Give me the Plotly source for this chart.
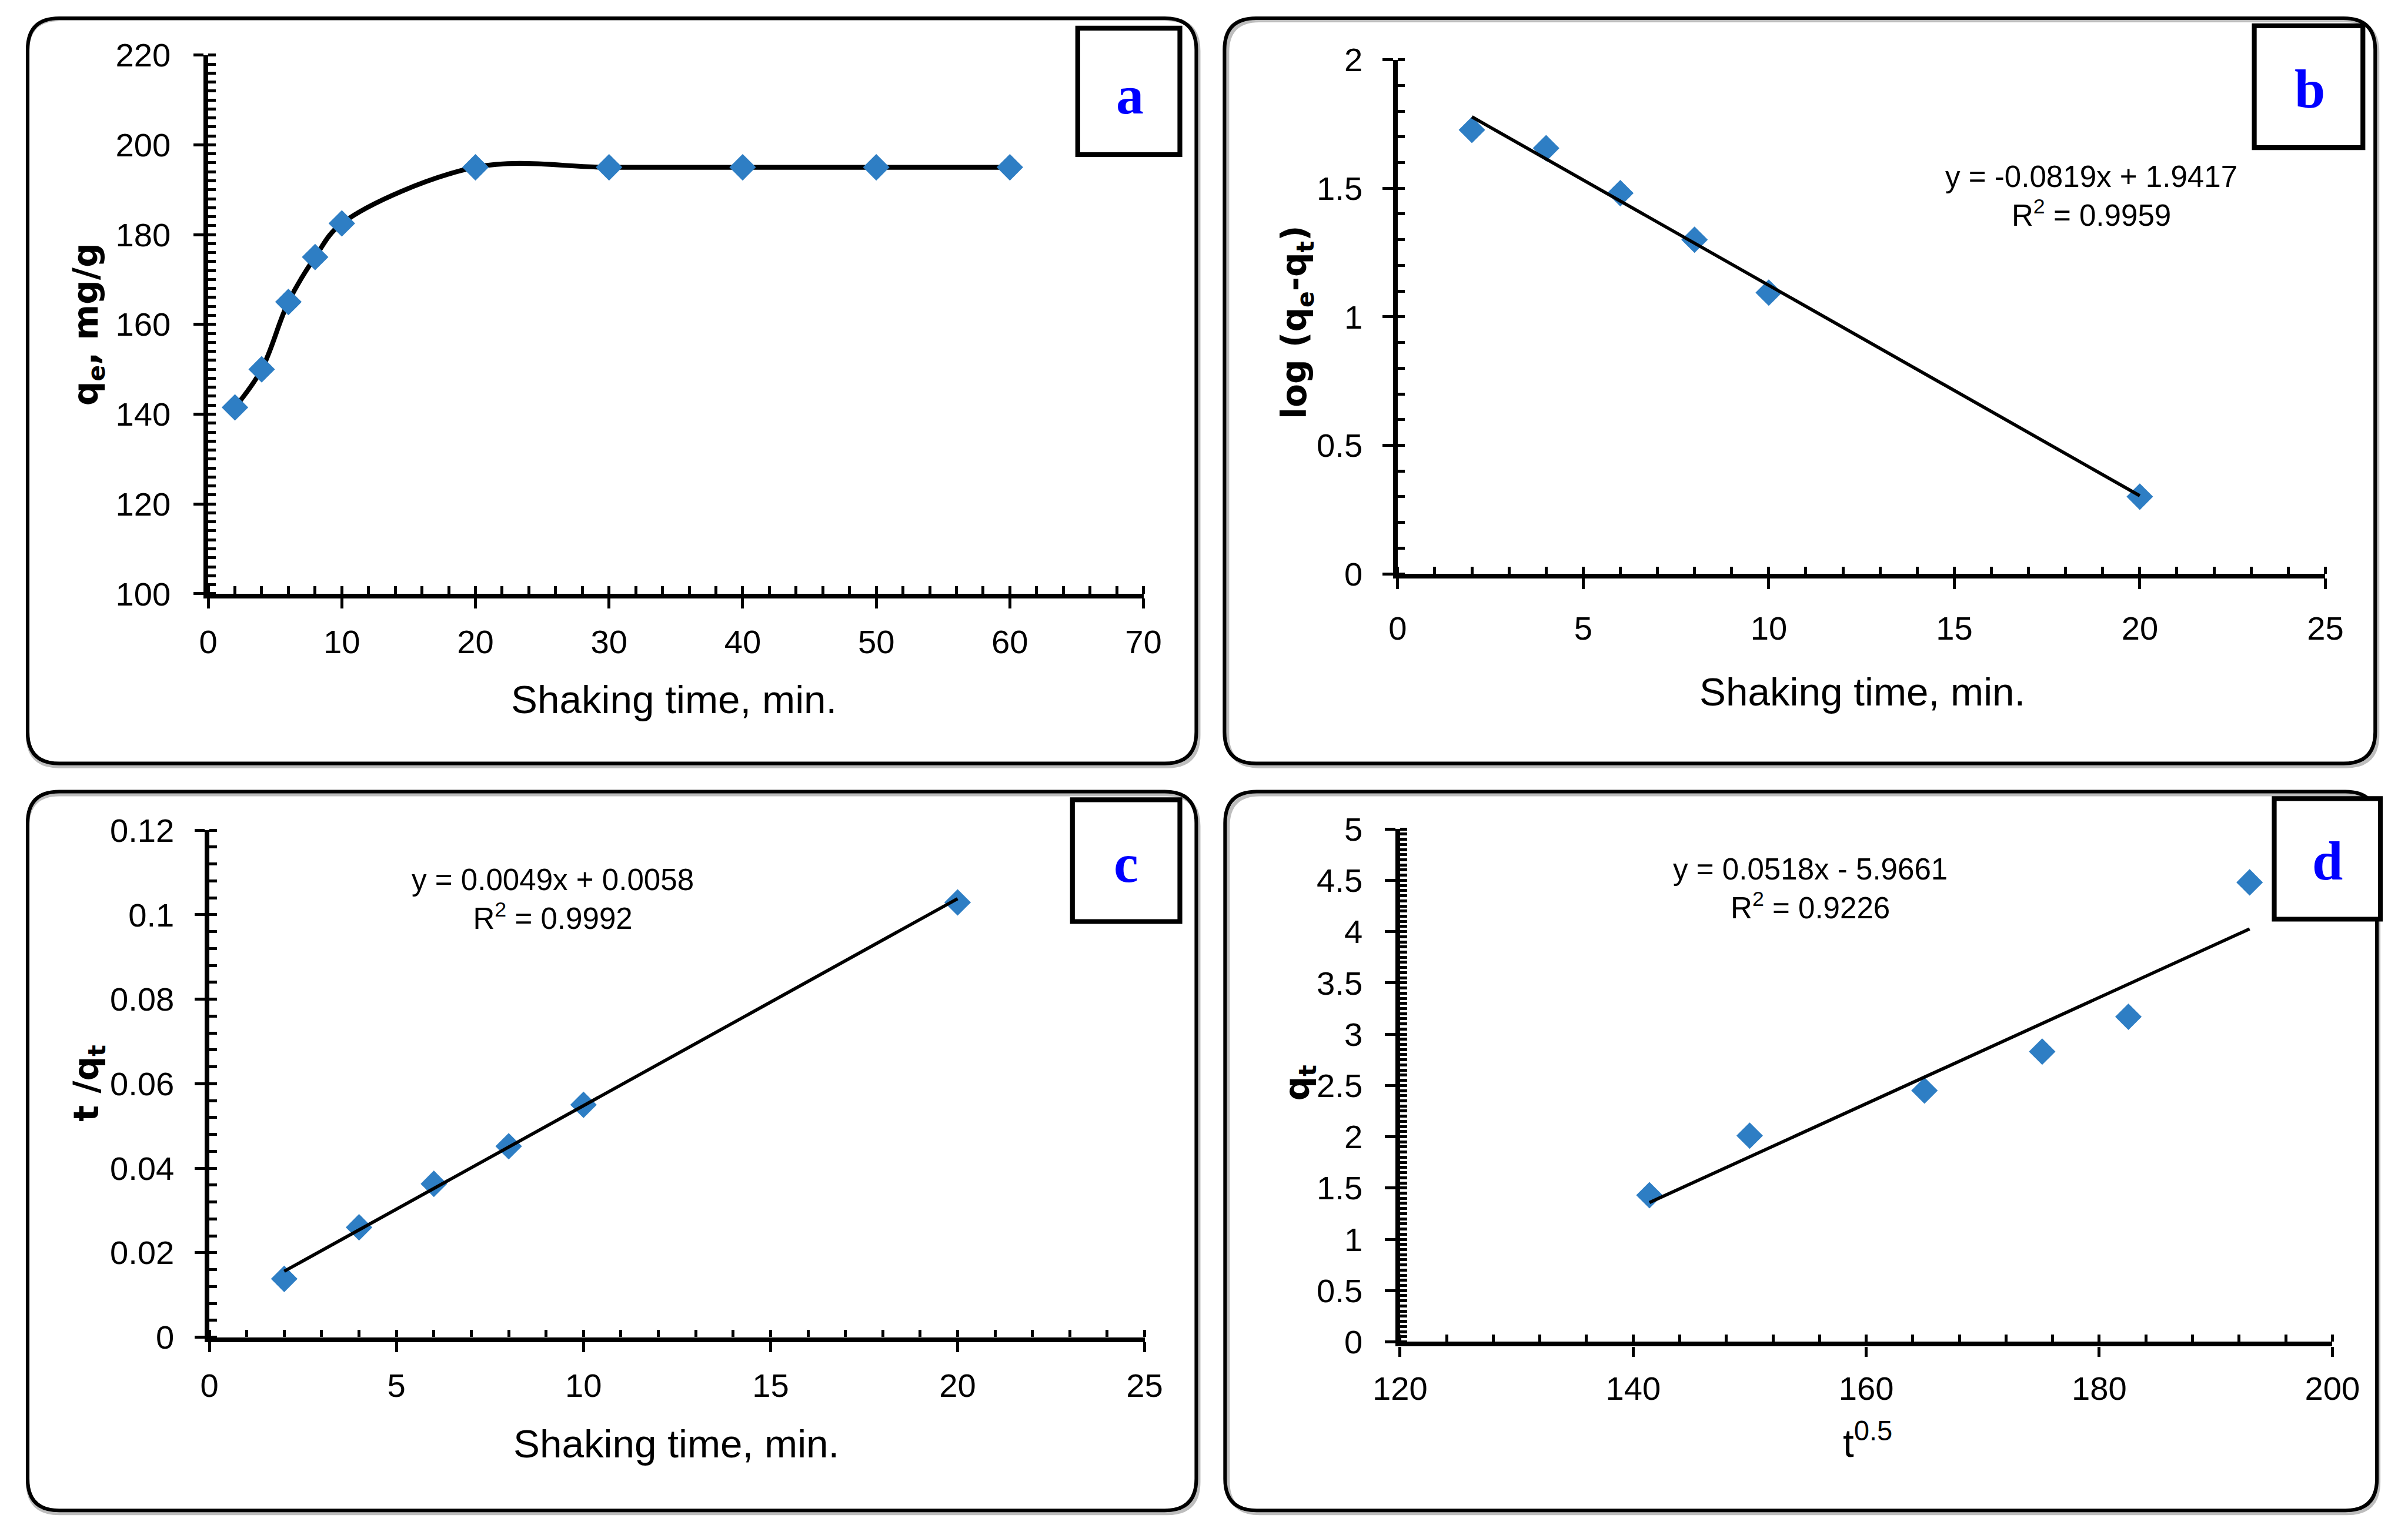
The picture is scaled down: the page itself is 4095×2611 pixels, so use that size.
import plotly.graph_objects as go

W, H = 4095, 2611

# ---------------- data ----------------
a_time = [2, 4, 6, 8, 10, 20, 30, 40, 50, 60]
a_qe = [141.5, 150, 165, 175, 182.5, 195, 195, 195, 195, 195]

b_time = [2, 4, 6, 8, 10, 20]
b_log = [1.727, 1.656, 1.481, 1.300, 1.094, 0.300]
b_slope, b_icpt = -0.0819, 1.9417

c_time = [2, 4, 6, 8, 10, 20]
c_tq = [0.0138, 0.0260, 0.0363, 0.0452, 0.0550, 0.1029]
c_slope, c_icpt = 0.0049, 0.0058

d_t05 = [141.4, 150.0, 165.0, 175.1, 182.5, 192.9]
d_qt = [1.43, 2.01, 2.45, 2.83, 3.17, 4.48]
d_slope, d_icpt = 0.0518, -5.9661

eq_b = "y = -0.0819x + 1.9417<br>R<sup>2</sup> = 0.9959"
eq_c = "y = 0.0049x + 0.0058<br>R<sup>2</sup> = 0.9992"
eq_d = "y = 0.0518x - 5.9661<br>R<sup>2</sup> = 0.9226"

xtitle_time = "Shaking time, min."
# --------------------------------------

# the page is photographed with a small border; map target pixels to page pixels
OX, SX, OY, SY = 47.4, 0.9786, 29.0, 0.980
K = 1 / 0.979  # size compensation


def PX(t):
    return (t - OX) / SX


def PY(t):
    return (t - OY) / SY


def fx(t):
    return min(max(PX(t), 0), W) / W


def fy(t):
    return 1 - min(max(PY(t), 0), H) / H


def sz(v):
    return round(v * K, 1)


MARK = "#2E7EC4"
TICKFONT = dict(family="Liberation Sans, Arial, sans-serif", size=sz(55), color="black")
EQFONT = dict(family="Liberation Sans, Arial, sans-serif", size=sz(50), color="black")
TITLEFONT = dict(family="Liberation Sans, Arial, sans-serif", size=sz(66), color="black")
YTFONT = dict(family="DejaVu Sans, Verdana, sans-serif", size=sz(57), color="black")
LETTERFONT = dict(family="Liberation Serif, Times New Roman, serif", size=sz(92), color="#0000FF")


def trend(xs, m, b):
    x0, x1 = min(xs), max(xs)
    return [x0, x1], [m * x0 + b, m * x1 + b]


fig = go.Figure()

marker = dict(symbol="diamond", size=sz(34), color=MARK, line=dict(width=0))

fig.add_trace(go.Scatter(x=a_time, y=a_qe, mode="lines+markers",
                         line=dict(color="black", width=sz(8), shape="spline", smoothing=1.0),
                         marker=marker, xaxis="x", yaxis="y", showlegend=False))
tx, ty = trend(b_time, b_slope, b_icpt)
fig.add_trace(go.Scatter(x=b_time, y=b_log, mode="markers", marker=marker,
                         xaxis="x2", yaxis="y2", showlegend=False))
fig.add_trace(go.Scatter(x=tx, y=ty, mode="lines", line=dict(color="black", width=sz(5.5)),
                         xaxis="x2", yaxis="y2", showlegend=False))
tx, ty = trend(c_time, c_slope, c_icpt)
fig.add_trace(go.Scatter(x=c_time, y=c_tq, mode="markers", marker=marker,
                         xaxis="x3", yaxis="y3", showlegend=False))
fig.add_trace(go.Scatter(x=tx, y=ty, mode="lines", line=dict(color="black", width=sz(5.5)),
                         xaxis="x3", yaxis="y3", showlegend=False))
tx, ty = trend(d_t05, d_slope, d_icpt)
fig.add_trace(go.Scatter(x=d_t05, y=d_qt, mode="markers", marker=marker,
                         xaxis="x4", yaxis="y4", showlegend=False))
fig.add_trace(go.Scatter(x=tx, y=ty, mode="lines", line=dict(color="black", width=sz(5.5)),
                         xaxis="x4", yaxis="y4", showlegend=False))


def common(rng, dtick, minor, anchor, standoff):
    return dict(range=rng, dtick=dtick, tick0=rng[0],
                anchor=anchor, showgrid=False, zeroline=False, showline=True,
                linecolor="black", linewidth=sz(8), ticks="outside", ticklen=sz(17),
                tickwidth=sz(5), tickcolor="black", tickfont=TICKFONT,
                ticklabelstandoff=standoff,
                minor=dict(dtick=minor, tick0=rng[0], ticks="inside", ticklen=sz(12),
                           tickwidth=sz(5), tickcolor="black", showgrid=False),
                fixedrange=True)


def xax(dom, rng, dtick, minor, anchor, standoff):
    d = common(rng, dtick, minor, anchor, standoff)
    d["domain"] = [fx(dom[0]), fx(dom[1])]
    return d


def yax(dom, rng, dtick, minor, anchor, standoff):
    d = common(rng, dtick, minor, anchor, standoff)
    d["domain"] = [fy(dom[1]), fy(dom[0])]
    return d


layout = dict(
    width=W, height=H, margin=dict(l=0, r=0, t=0, b=0),
    paper_bgcolor="white", plot_bgcolor="rgba(0,0,0,0)", showlegend=False,
    xaxis=xax((355, 1948), [0, 70], 10, 2, "y", 8),
    yaxis=yax((92, 1012), [100, 220], 20, 2, "x", 27),
    xaxis2=xax((2381, 3961), [0, 25], 5, 1, "y2", 19),
    yaxis2=yax((100, 978), [0, 2], 0.5, 0.1, "x2", 23),
    xaxis3=xax((357, 1950), [0, 25], 5, 1, "y3", 9),
    yaxis3=yax((1416, 2282), [0, 0.12], 0.02, 0.004, "x3", 23),
    xaxis4=xax((2385, 3973), [120, 200], 20, 4, "y4", 6),
    yaxis4=yax((1414, 2290), [0, 5], 0.5, 0.05, "x4", 27),
)
fig.update_layout(**layout)

shapes = []


def rrect(x0, y0, x1, y1, r, cap):
    X0, X1 = fx(x0), min(fx(x1), cap / W)
    Y0, Y1 = fy(y0), fy(y1)
    rx, ry = r / W, r / H
    return (f"M {X0+rx},{Y0} L {X1-rx},{Y0} Q {X1},{Y0} {X1},{Y0-ry} "
            f"L {X1},{Y1+ry} Q {X1},{Y1} {X1-rx},{Y1} L {X0+rx},{Y1} "
            f"Q {X0},{Y1} {X0},{Y1+ry} L {X0},{Y0-ry} Q {X0},{Y0} {X0+rx},{Y0} Z")


frames = [(30, 26, 2038, 1302), (2086, 28, 4046, 1302),
          (30, 1350, 2038, 2578), (2087, 1350, 4072, 2578)]
for (x0, y0, x1, y1) in frames:
    shapes.append(dict(type="path", xref="paper", yref="paper",
                       path=rrect(x0 + 5, y0 + 5, x1 + 4, y1 + 5, 55, 4092),
                       line=dict(color="#BDBDBD", width=sz(6)), layer="below"))
    shapes.append(dict(type="path", xref="paper", yref="paper",
                       path=rrect(x0, y0, x1, y1, 55, 4089),
                       line=dict(color="black", width=sz(6)), layer="below"))

boxes = [(1836, 46, 2010, 262), (3840, 42, 4025, 250),
         (1827, 1364, 2010, 1572), (3874, 1362, 4057, 1568)]
for (x0, y0, x1, y1) in boxes:
    shapes.append(dict(type="rect", xref="paper", yref="paper",
                       x0=fx(x0), x1=fx(x1), y0=fy(y1), y1=fy(y0),
                       line=dict(color="black", width=sz(8)), fillcolor="white", layer="below"))
fig.update_layout(shapes=shapes)

ann = []
letters = [("a", 1925, 160), ("b", 3935, 150), ("c", 1918, 1472), ("d", 3965, 1468)]
for t, x, y in letters:
    ann.append(dict(text=f"<b>{t}</b>", x=fx(x), y=fy(y), xref="paper", yref="paper",
                    showarrow=False, font=LETTERFONT, xanchor="center", yanchor="middle"))

for t, x, y in [(eq_b, 3562, 333), (eq_c, 942, 1534), (eq_d, 3084, 1516)]:
    ann.append(dict(text=t, x=fx(x), y=fy(y), xref="paper", yref="paper", showarrow=False,
                    font=EQFONT, xanchor="center", yanchor="middle", align="center"))

for t, x, y in [(xtitle_time, 1148, 1192), (xtitle_time, 3172, 1179),
                (xtitle_time, 1152, 2464), ("t<sup>0.5</sup>", 3181, 2458)]:
    ann.append(dict(text=t, x=fx(x), y=fy(y), xref="paper", yref="paper", showarrow=False,
                    font=TITLEFONT, xanchor="center", yanchor="middle"))

for t, x, y in [("<b>q<sub>e</sub>, mg/g</b>", 150, 552), ("<b>log (q<sub>e</sub>-q<sub>t</sub>)</b>", 2209, 548),
                ("<b>t /q<sub>t</sub></b>", 152, 1848), ("<b>q<sub>t</sub></b>", 2214, 1848)]:
    ann.append(dict(text=t, x=fx(x), y=fy(y), xref="paper", yref="paper", showarrow=False,
                    font=YTFONT, textangle=-90, xanchor="center", yanchor="middle"))

fig.update_layout(annotations=ann)

fig.write_html("out.html", config={"displayModeBar": False},
               post_script="document.body.style.margin='0px';document.body.style.overflow='hidden';")
